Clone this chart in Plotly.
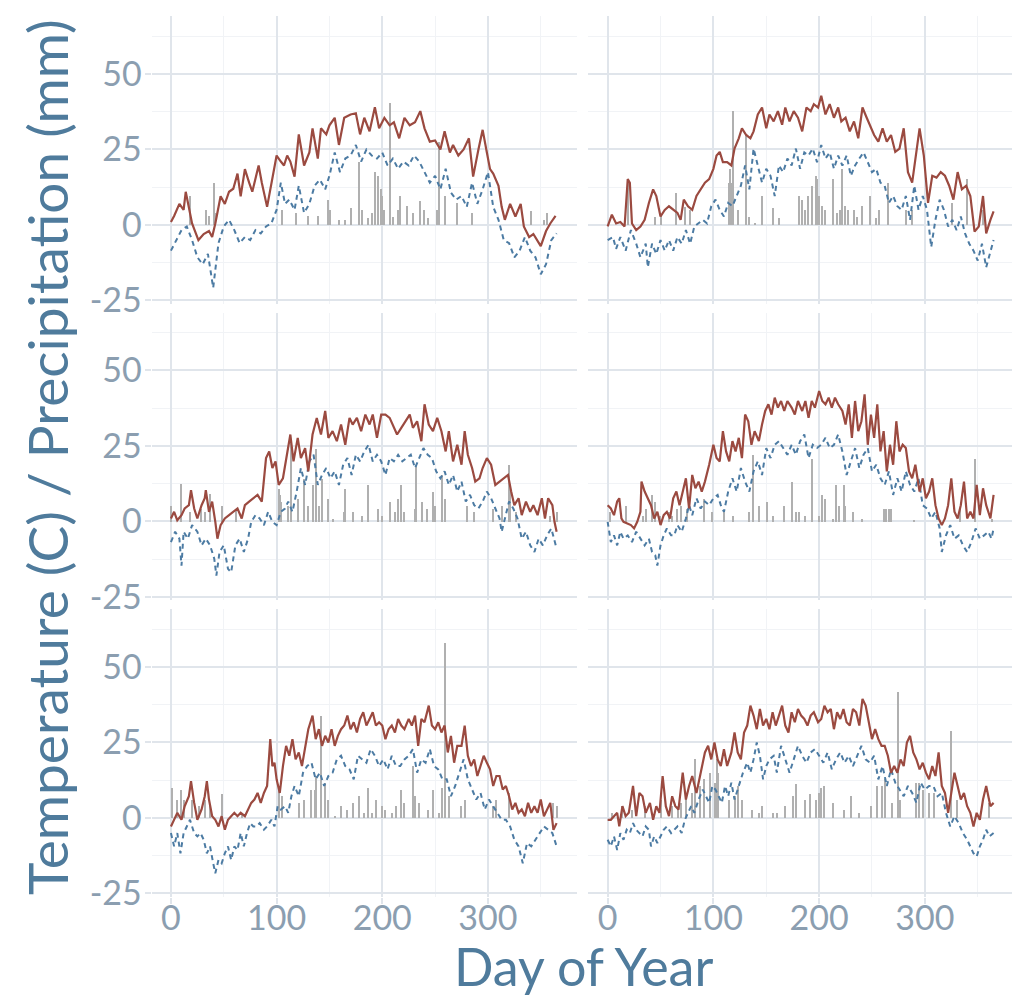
import plotly.graph_objects as go
from plotly.subplots import make_subplots

# ---------------- data ----------------
# Panel 1 (top-left)
tmax_days_1 = [0,3,8,12,14,17,20,26,31,36,39,42,47,51,55,59,63,66,70,74,77,83,86,91,96,100,104,107,110,113,117,121,126,131,134,139,142,147,150,155,159,164,170,175,179,183,188,193,197,202,207,211,216,221,226,231,236,240,245,250,255,259,264,267,272,277,282,286,291,295,299,302,305,310,313,316,321,326,331,334,339,343,350,355,359,364]
tmax_1 = [1,3,7,5,11,6,0.5,-5,-3,-2,-4,0.5,9.5,7,11,12,17,9.5,18.5,14,11,19.7,14,6,16,23,21,19.7,23,21,16,30,19.7,24,32,22,32,30,33,35.5,26.5,35.5,36.6,37,30,35.5,31,39,32,35.5,33,34,28.7,35.5,33,34,37.7,32,27.6,28,25,31,24,26.5,23,25,28.7,16,25,31.5,24,18.5,17,13,6,1.7,7,2.8,7,-0.5,-4,-3,-7,-2,0.5,3]
tmin_days_1 = [0,5,10,15,20,25,30,35,40,45,50,55,60,65,70,75,80,85,90,95,100,104,108,112,117,121,126,131,136,141,146,150,155,160,165,170,175,180,185,190,195,200,205,210,215,220,225,230,235,240,245,250,255,260,265,270,275,280,285,290,295,300,305,310,315,320,325,330,335,340,345,350,355,360,365]
tmin_1 = [-8.5,-5,-1.7,-0.5,-5,-10.7,-13,-9.6,-20.8,-6,-0.5,1.7,-1.7,-6,-4,-5,-1.7,-2.8,-0.5,0.5,5,14,7,8.4,5,13,4,7,13,15,11.8,16.3,24,17.5,22,23,26.5,21,25,23,22,24,19.7,22,18.6,21,19.7,23,21,17.5,14,16.3,11.8,18.6,10.7,8.4,9.6,6,14,7,11.8,17.5,6,1.7,-5,-6,-10.7,-8.5,-4,-8.5,-10.7,-16.3,-13,-5,-2.8]
prcp_days_1 = [18,33,36,40,41,105,118,129,139,148,150,159,164,170,178,180,186,190,193,196,198,199,201,207,210,215,216,223,229,235,239,243,251,253,259,270,285,340,353,356]
prcp_1 = [9.6,5,3,14,4,5,4,3,3,8.4,5,1.7,1.7,5.6,21,5,2.2,4,17.5,16.3,11.8,9.6,5,40.5,2.8,5,9.6,6.2,4,7.9,5,2.2,5,27.6,9.6,7.3,4,4.5,1.7,4]

# Panel 2 (top-right)
tmax_days_2 = [0,4,8,12,16,19,21,23,27,31,35,39,43,46,50,54,58,62,66,69,72,76,80,84,88,92,96,100,103,106,109,113,117,120,124,127,131,135,138,142,146,150,153,157,161,165,168,172,176,180,184,188,192,195,199,202,206,210,214,218,221,225,229,233,237,241,245,249,252,256,260,264,268,272,276,280,284,288,292,295,299,303,307,311,315,319,323,327,331,335,339,343,347,351,355,358,362,365]
tmax_2 = [-0.5,3.4,0.5,1,-0.5,15.2,14,0.5,-1.7,-0.5,1.7,7.3,11.8,9.6,2.8,5,6.2,5,4,1.7,8.4,6.2,5,9.6,11.8,14,15.2,18.6,23,24.2,20.8,20.8,19.7,25.3,28.7,32,29.8,28.7,31,36.6,38.9,32,36.6,34.3,37.7,33.2,38.9,34.3,37.7,35.5,31,38.9,37.7,40,38.9,42.8,36.6,40,35.5,38.9,34.3,35.5,31,34.3,28.7,38.9,35.5,32,29.8,27.6,32,27.6,29.8,24.2,25.3,32,17.5,14,24.2,32,23,7.3,16.3,15.7,17.5,16.3,13,8.4,17.5,11.8,13,9.6,-2.2,-0.5,9.6,-2.8,1.7,4.5]
tmin_days_2 = [0,5,8,12,17,22,27,31,36,38,42,46,50,54,58,62,66,70,74,78,82,86,90,94,98,102,106,110,114,118,122,126,130,134,138,142,146,150,154,158,162,166,170,174,178,182,186,190,194,198,202,206,210,214,218,222,226,230,234,238,242,246,250,254,258,262,266,270,274,278,282,286,290,294,298,302,306,310,314,318,322,326,330,334,338,342,346,350,354,358,362,365]
tmin_2 = [-5,-4,-7.9,-4,-8.5,-1.7,-6.2,-10.7,-6.2,-14,-6.2,-9.6,-5,-8.5,-5,-8.5,-4,-6.2,-1.7,-6.2,-0.5,0.5,1.7,0.5,6.2,8.4,5,2.8,7.3,6.2,9.6,13,19.7,11.8,25.3,19.7,14,18.6,16.3,9.6,19.7,17.5,22,19.7,25.3,18.6,24,23,25.3,20.8,26.5,22,24,18.6,23,19.7,23,16.3,19.7,22,24,20.8,17.5,18.6,14,13,7.3,9.6,6.2,5,9.6,1.7,13,5,9.6,5,-7.3,1.7,8.4,5,-0.5,1.7,-1.7,2.8,-2.8,-6.2,-8.5,-11.8,-6.2,-14,-8.5,-5]
prcp_days_2 = [20,45,51,65,73,78,115,116,118,119,124,131,134,140,146,157,162,181,184,187,190,194,197,198,200,203,206,213,217,220,222,225,228,233,236,241,248,254,257,265,282,288,326,340,355]
prcp_2 = [15,2.8,3,10.7,6,5,14,18.6,14,37.7,5,29.8,2.8,0.6,9.6,5.6,2.2,9.6,8.4,5,9.6,13,16.3,15.2,9.6,6.2,5,15.2,4,5,18.6,6.2,5,5,2.8,6.2,9.6,2.2,5,14,5,5,7.3,15.2,5]

# Panel 3 (middle-left)
tmax_days_3 = [0,3,6,10,13,17,19,22,25,29,32,33,36,39,42,44,47,51,55,59,63,67,70,74,78,82,86,90,93,96,99,102,106,110,113,116,120,123,127,130,134,138,142,146,149,153,157,161,165,169,172,176,180,184,188,191,195,199,203,207,210,214,218,222,226,229,233,237,240,244,248,252,256,260,263,267,271,275,278,281,285,288,292,295,299,303,307,311,315,319,322,325,329,332,336,340,343,347,351,354,357,361,363,365]
tmax_3 = [1.0,3.2,0.4,2.1,4.3,5.4,10.4,4.3,1.0,5.4,7.7,10.4,3.2,6.6,-0.1,-5.7,-1.2,1.0,2.1,3.2,4.3,1.0,5.4,6.6,7.7,8.8,6.6,21.0,23.2,17.7,19.9,12.1,14.3,22.1,28.8,19.9,27.7,21.0,24.3,16.6,28.8,34.3,28.8,36.6,27.7,29.9,26.6,32.1,25.4,34.3,32.1,34.3,29.9,35.4,32.1,35.4,27.7,35.4,35.4,34.3,32.1,28.8,31.0,33.2,35.4,31.0,33.2,26.6,38.8,32.1,29.9,34.3,29.9,23.2,29.9,19.9,25.4,18.8,29.9,22.1,17.7,13.2,14.3,17.7,21.0,18.8,12.1,13.2,14.3,15.4,9.9,5.4,7.7,2.1,6.6,3.2,5.4,2.1,7.7,1.0,7.7,5.4,-0.1,-3.4]
tmin_days_3 = [0,4,8,10,12,16,20,25,29,33,37,41,43,46,50,54,57,61,65,69,73,76,80,84,88,92,96,100,104,108,111,115,119,123,127,131,135,139,143,147,151,155,159,163,167,171,175,179,183,187,191,195,199,203,207,211,215,219,223,227,231,235,239,243,247,251,255,259,263,267,271,275,279,283,287,291,295,299,303,307,311,313,316,320,324,328,332,336,340,344,348,352,356,360,365]
tmin_3 = [-6.8,-3.4,-5.7,-14.6,-3.4,-5.7,-1.2,-3.4,-7.9,-5.7,-7.9,-12.3,-17.9,-10.1,-7.9,-15.7,-16.8,-7.9,-5.7,-10.1,-5.7,-0.1,2.1,1.0,-1.2,3.2,-0.1,-1.2,3.2,4.3,6.6,3.2,9.9,17.7,12.1,19.9,22.1,12.1,15.4,17.7,14.3,16.6,12.1,18.8,21.0,15.4,22.1,19.9,23.2,25.4,19.9,22.1,19.9,15.4,21.0,19.9,22.1,19.9,21.0,22.1,17.7,21.0,24.3,22.1,21.0,16.6,14.3,16.6,12.1,15.4,9.9,13.2,6.6,8.8,5.4,4.3,6.6,9.9,7.7,4.3,1.0,-3.4,1.0,6.6,4.3,1.0,-5.7,-3.4,-7.9,-10.1,-5.7,-7.9,-4.6,-2.3,-9.0]
prcp_days_3 = [0,9,18,28,32,37,48,61,102,103,104,110,113,120,126,129,134,137,140,143,148,153,163,164,172,180,186,196,199,207,212,215,217,220,231,232,237,242,248,250,256,259,280,286,304,313,320,321,326,358,365]
prcp_3 = [5.4,12.7,3.2,4.3,3.2,9.3,5.4,4.3,11.0,8.8,6.6,5.4,26.0,7.7,14.3,5.4,12.1,24.3,5.4,14.3,7.7,1.0,3.2,11.0,3.2,2.1,12.1,4.3,2.1,6.6,3.2,7.7,12.1,3.2,4.3,18.8,6.6,4.3,9.9,5.4,15.4,7.7,5.4,3.2,4.3,5.4,18.8,11.0,3.2,2.1,3.2]

# Panel 4 (middle-right)
tmax_days_4 = [0,3,6,9,11,13,15,19,22,25,28,31,32,35,38,41,44,47,50,53,56,59,62,65,68,71,74,77,80,83,86,89,92,96,100,103,106,109,112,115,118,121,124,127,130,133,136,139,143,146,149,152,155,158,161,164,167,170,174,177,180,184,187,190,193,196,200,203,206,209,212,215,218,222,225,228,231,234,237,240,243,246,249,252,255,258,261,264,267,270,273,276,279,282,285,288,291,295,298,301,304,307,310,313,316,319,322,325,328,331,334,337,340,343,346,349,352,355,358,362,365]
tmax_4 = [5.4,4.3,2.1,6.6,7.7,1.0,-0.1,-0.7,-1.2,-2.3,-0.1,3.2,13.2,9.9,7.7,5.4,1.0,3.2,-1.2,2.1,3.2,1.0,7.7,9.9,5.4,9.9,14.3,4.3,15.4,11.0,13.2,9.9,13.2,18.8,25.4,21.0,19.9,29.9,23.2,19.9,26.6,23.2,27.7,21.0,35.4,33.2,25.4,29.9,26.6,32.1,36.6,38.8,35.4,41.0,37.7,39.9,36.6,39.9,37.7,35.4,39.9,36.6,39.9,34.3,39.9,37.7,43.2,39.9,38.8,41.0,37.7,41.0,38.8,36.6,32.1,38.8,27.7,39.9,29.9,33.2,42.1,25.4,35.4,27.7,38.8,23.2,29.9,16.6,25.4,18.8,33.2,23.2,25.4,24.3,16.6,14.3,18.8,9.9,14.3,7.7,9.9,14.3,5.4,1.0,-1.2,1.0,5.4,14.3,3.2,1.0,5.4,13.2,1.0,3.2,1.0,12.1,2.1,11.0,5.4,1.0,8.8]
tmin_days_4 = [0,3,6,9,12,15,19,23,27,31,35,39,42,45,47,50,53,56,60,63,66,70,74,77,80,84,88,92,96,100,104,107,110,114,118,122,126,130,134,138,142,146,150,154,158,162,166,170,174,178,182,186,190,194,198,202,206,210,214,218,222,226,230,234,238,242,246,250,254,258,262,266,270,274,278,282,286,290,294,298,302,306,310,314,316,320,324,328,332,336,340,344,348,352,356,360,363,365]
tmin_4 = [-0.1,-6.8,-4.6,-7.9,-3.4,-5.7,-4.6,-6.8,-3.4,-5.7,-7.9,-5.7,-10.1,-11.2,-14.6,-7.9,-4.6,-2.3,-4.6,-4.6,-1.2,-3.4,1.0,5.4,2.1,7.7,4.3,6.6,5.4,7.7,8.8,5.4,3.2,9.9,14.3,9.9,17.7,13.2,9.9,16.6,19.9,15.4,24.3,21.0,25.4,26.6,24.3,22.1,25.4,22.1,26.6,28.8,21.0,25.4,24.3,25.4,27.7,24.3,25.4,28.8,23.2,15.4,19.9,24.3,17.7,22.1,24.3,16.6,18.8,14.3,12.1,16.6,8.8,14.3,9.9,16.6,12.1,9.9,14.3,5.4,4.3,1.0,3.2,-2.3,-10.1,-4.6,-1.2,-5.7,-4.6,-7.9,-10.1,-6.8,-2.3,-5.7,-4.6,-3.4,-5.7,-2.3]
prcp_days_4 = [3,18,34,37,42,45,50,58,61,66,70,75,91,99,110,119,134,138,143,151,157,167,175,178,181,187,194,200,203,206,213,216,219,224,225,232,241,262,264,266,268,290,334,348,364]
prcp_4 = [3.2,5.4,2.1,4.3,8.8,6.6,2.1,3.2,2.1,4.3,5.4,4.3,7.7,3.2,3.2,2.1,3.2,22.1,5.4,6.6,2.1,5.4,13.2,3.2,3.2,2.1,21.0,2.1,8.8,7.7,1.0,12.1,5.4,12.1,5.4,3.2,1.0,4.3,4.3,4.3,4.3,0.4,4.3,21.0,1.0]

# Panel 5 (bottom-left)
tmax_days_5 = [0,3,6,10,13,17,19,22,25,29,32,34,36,39,42,45,48,51,54,57,60,63,66,70,73,76,79,82,85,88,91,94,96,98,100,103,106,109,112,115,118,121,124,127,130,134,137,140,143,146,149,152,155,158,161,164,167,170,173,176,179,182,185,188,191,194,197,200,203,206,209,212,215,218,221,225,228,231,234,237,240,244,247,250,253,256,259,262,265,268,271,275,278,281,284,287,290,293,296,299,302,305,308,311,314,317,320,323,326,329,332,335,338,341,344,347,350,353,356,359,362,365]
tmax_5 = [-2.8,-0.6,1.7,-0.6,3.9,7.2,12.2,5.0,-0.6,2.8,7.2,12.2,6.1,0.6,-0.6,-2.8,0.6,-3.9,-0.6,0.6,1.7,0.6,1.7,0.6,2.8,5.0,6.1,8.3,5.0,8.3,10.6,26.1,17.2,18.3,12.8,8.3,17.2,23.9,20.6,26.1,19.4,21.7,17.2,23.9,29.4,33.9,26.1,29.4,23.9,27.2,25.0,29.4,23.9,27.2,29.4,30.6,33.9,29.4,31.7,28.3,32.8,35.0,30.6,32.8,35.0,30.6,31.7,30.6,26.1,29.4,30.6,28.3,32.8,30.6,29.4,32.8,30.6,33.9,23.9,32.8,31.7,37.2,30.6,29.4,31.7,28.3,30.6,21.7,27.2,18.3,23.9,23.9,30.6,20.6,17.2,19.4,13.9,17.2,20.6,18.3,16.1,10.6,13.9,13.9,9.4,10.6,7.2,2.8,5.0,1.7,2.8,0.6,5.0,1.7,3.9,1.7,6.1,0.6,2.8,5.0,-3.9,-1.7]
tmin_days_5 = [0,3,6,9,12,15,18,22,25,28,31,34,37,40,42,45,48,51,54,57,60,63,66,69,72,75,78,81,84,88,91,95,98,101,104,108,111,114,117,121,125,129,133,137,141,145,149,153,157,161,165,169,173,177,181,185,189,193,197,201,205,209,213,217,221,225,229,233,237,241,245,249,253,257,261,265,269,273,277,281,285,289,293,297,301,305,309,313,317,321,325,329,333,337,341,345,349,353,357,361,365]
tmin_5 = [-5.0,-9.4,-5.0,-11.7,-5.0,-2.8,-0.6,-5.0,-6.1,-5.0,-7.2,-11.7,-9.4,-15.0,-18.3,-13.9,-15.0,-11.7,-9.4,-13.9,-9.4,-10.6,-5.0,-9.4,-5.0,-1.7,-2.8,-2.8,-1.7,-3.9,-2.8,-0.6,-2.8,3.9,2.8,3.9,1.7,7.2,10.6,7.2,15.0,17.2,18.3,12.8,15.0,10.6,13.9,15.0,19.4,20.6,17.2,16.1,12.8,20.6,19.4,18.3,22.8,20.6,17.2,19.4,16.1,20.6,17.2,17.2,19.4,20.6,22.8,15.0,19.4,18.3,22.8,17.2,16.1,12.8,12.8,7.2,10.6,15.0,19.4,12.8,9.4,6.1,8.3,2.8,6.1,3.9,1.7,-0.6,-0.6,-2.8,-7.2,-9.4,-15.0,-8.3,-9.4,-7.2,-5.0,-2.8,-3.9,-5.0,-9.4]
prcp_days_5 = [1,5,9,12,20,26,32,37,48,67,102,105,121,126,132,136,137,142,145,148,155,161,166,172,178,182,186,190,194,199,202,209,213,217,220,229,231,234,243,248,253,256,259,263,274,278,304,307,320,361,365]
prcp_5 = [10.0,6.1,9.4,6.1,6.1,3.9,6.1,3.9,7.8,1.7,10.6,7.2,5.0,6.1,9.4,9.4,13.9,33.9,11.7,6.1,0.6,3.9,2.8,5.0,7.2,1.7,10.0,1.7,6.1,3.9,2.8,1.7,3.9,9.4,5.0,17.2,7.2,5.0,2.8,9.4,1.7,10.0,57.8,7.2,3.9,6.1,3.9,6.1,8.3,5.0,3.9]

# Panel 6 (bottom-right)
tmax_days_6 = [0,3,6,9,11,14,17,20,24,27,30,33,36,40,43,46,49,52,55,58,61,64,67,71,74,77,80,84,88,92,95,98,101,104,107,110,113,117,120,123,126,129,132,135,138,141,144,147,150,153,156,159,162,165,168,171,174,177,180,183,186,189,192,195,199,202,205,208,211,214,217,220,223,226,229,232,235,238,241,244,247,250,253,256,259,262,265,268,271,274,277,280,283,286,289,292,295,298,301,304,307,310,313,316,319,322,325,328,331,334,337,340,343,346,349,352,355,358,362,365]
tmax_6 = [-0.6,-0.6,0.6,1.7,-2.8,3.9,0.6,1.7,10.6,0.6,8.3,7.2,1.7,5.0,-0.6,3.9,1.7,13.9,3.9,0.6,7.2,3.9,2.8,15.0,6.1,10.6,13.9,8.3,15.0,21.7,23.9,19.4,25.0,19.4,17.2,22.8,17.2,21.7,28.3,21.7,19.4,28.3,30.6,37.2,33.9,29.4,36.1,30.6,32.8,29.4,35.0,30.6,33.9,37.2,30.6,28.3,35.0,31.7,36.1,33.9,32.8,30.6,33.9,35.0,31.7,32.8,37.2,35.0,36.1,29.4,35.0,32.8,36.1,31.7,30.6,36.1,35.0,30.6,39.4,37.2,31.7,26.1,29.4,26.1,23.9,23.9,20.6,15.0,17.2,15.0,19.4,17.2,25.0,27.2,21.7,19.4,16.1,18.3,15.0,12.8,17.2,13.9,21.7,10.6,8.3,1.7,8.3,15.0,10.6,6.1,8.3,3.9,1.7,-2.8,1.7,-0.6,6.1,10.6,3.9,5.0]
tmin_days_6 = [0,3,6,9,12,15,18,21,24,27,30,33,36,39,41,44,47,50,53,56,60,63,66,70,73,76,79,82,86,90,93,96,99,102,105,108,111,114,117,120,124,128,132,135,138,141,144,147,150,153,157,160,164,168,172,176,180,184,188,192,196,200,204,208,212,216,220,224,228,232,236,240,244,248,252,256,260,264,268,272,276,280,284,288,292,296,300,304,308,312,316,320,324,328,332,336,340,343,346,349,352,355,358,361,365]
tmin_6 = [-7.2,-9.4,-6.1,-10.6,-5.0,-7.2,-3.9,-5.0,-1.7,-3.9,-5.0,-6.1,-2.8,-3.9,-9.4,-6.1,-8.3,-6.1,-3.9,-2.8,-5.0,-3.9,-2.8,-5.0,-0.6,1.7,3.9,1.7,6.1,9.4,7.2,5.0,10.6,9.4,7.2,5.0,10.6,7.2,11.7,6.1,10.6,15.0,18.3,15.0,19.4,25.0,20.6,12.8,17.2,19.4,20.6,15.0,23.9,19.4,15.0,19.4,23.9,20.6,18.3,21.7,22.8,20.6,18.3,21.7,16.1,19.4,21.7,18.3,20.6,17.2,20.6,23.9,19.4,18.3,20.6,12.8,17.2,10.6,16.1,11.7,9.4,7.2,10.6,8.3,5.0,11.7,9.4,10.6,10.6,7.2,8.3,1.7,-2.8,0.6,-1.7,-5.0,-7.2,-9.4,-11.7,-12.8,-9.4,-7.2,-3.9,-6.1,-5.0]
prcp_days_6 = [4,14,23,36,51,61,67,70,74,80,83,88,91,97,102,104,105,115,121,124,127,137,143,146,157,160,168,176,178,187,192,197,200,202,205,213,224,230,238,249,255,260,263,269,275,277,292,295,299,304,309,325,331,361]
prcp_6 = [1.7,3.9,2.8,3.9,6.1,3.9,3.9,5.0,7.2,8.3,19.4,10.6,12.8,15.0,11.7,19.4,15.0,6.1,7.2,10.6,6.1,2.8,1.7,3.9,1.7,1.7,3.9,7.2,11.1,6.1,7.8,6.1,8.3,10.0,10.6,5.0,2.8,7.2,1.7,3.9,10.6,10.6,12.8,5.0,41.7,6.1,11.7,11.7,9.4,8.3,8.3,28.9,6.1,5.0]

x_tickvals = [0, 100, 200, 300]
x_ticktext = ["0", "100", "200", "300"]
y_tickvals = [-25, 0, 25, 50]
y_ticktext = ["-25", "0", "25", "50"]
x_title = "Day of Year"
y_title = "Temperature (C) / Precipitation (mm)"

panels = [
    (tmax_days_1, tmax_1, tmin_days_1, tmin_1, prcp_days_1, prcp_1),
    (tmax_days_2, tmax_2, tmin_days_2, tmin_2, prcp_days_2, prcp_2),
    (tmax_days_3, tmax_3, tmin_days_3, tmin_3, prcp_days_3, prcp_3),
    (tmax_days_4, tmax_4, tmin_days_4, tmin_4, prcp_days_4, prcp_4),
    (tmax_days_5, tmax_5, tmin_days_5, tmin_5, prcp_days_5, prcp_5),
    (tmax_days_6, tmax_6, tmin_days_6, tmin_6, prcp_days_6, prcp_6),
]

# ---------------- styling ----------------
OFF = 8                      # page body margin of the html wrapper
W, H = 1020 - OFF, 1001 - OFF
RED = "#9b4a40"
BLUE = "#4c7ba3"
BAR = "#b0b0b0"
GRID = "#e0e5eb"
GRID_MINOR = "#f1f3f6"
TICK_COLOR = "#8b9eb0"
TITLE_COLOR = "#4f7b9c"
FONT = "Lato"

fig = make_subplots(rows=3, cols=2)

for i, (dx, tx, dn, tn, dp, pp) in enumerate(panels):
    r, c = i // 2 + 1, i % 2 + 1
    fig.add_trace(go.Bar(x=dp, y=pp, width=1, marker=dict(color=BAR, line=dict(width=0)),
                         showlegend=False), row=r, col=c)
    fig.add_trace(go.Scatter(x=dn, y=tn, mode="lines",
                             line=dict(color=BLUE, width=2, dash="5px,4px"),
                             showlegend=False), row=r, col=c)
    fig.add_trace(go.Scatter(x=dx, y=tx, mode="lines",
                             line=dict(color=RED, width=2.2),
                             showlegend=False), row=r, col=c)

# panel positions in window pixels
col_px = [(151.6, 577.0), (588.3, 1014.0)]
row_px = [(16.0, 303.5), (312.5, 600.0), (609.0, 896.5)]

def px_x(v):
    return (v - OFF) / W

def px_y(v):
    return (H - (v - OFF)) / H

for i in range(6):
    r, c = i // 2, i % 2
    n = i + 1
    xa = "xaxis" if n == 1 else f"xaxis{n}"
    ya = "yaxis" if n == 1 else f"yaxis{n}"
    x0, x1 = col_px[c]
    y0, y1 = row_px[r]
    fig.layout[xa].update(
        domain=[px_x(x0), px_x(x1)], range=[-18.3, 384.3], automargin=False,
        tickvals=x_tickvals, ticktext=x_ticktext,
        showticklabels=(r == 2), ticks="outside" if r == 2 else "",
        ticklen=6, tickwidth=1.5, tickcolor=GRID, ticklabelstandoff=-14,
        showgrid=True, gridcolor=GRID, gridwidth=1.6,
        minor=dict(tickvals=[50, 150, 250, 350], showgrid=True, gridcolor=GRID_MINOR, gridwidth=1),
        zeroline=False, showline=False,
        tickfont=dict(family=FONT, size=34, color=TICK_COLOR),
    )
    fig.layout[ya].update(
        domain=[px_y(y1), px_y(y0)], range=[-26.0, 69.2], automargin=False,
        tickvals=y_tickvals, ticktext=y_ticktext,
        showticklabels=(c == 0), ticks="outside" if c == 0 else "",
        ticklen=6, tickwidth=1.5, tickcolor=GRID, ticklabelstandoff=-4,
        showgrid=True, gridcolor=GRID, gridwidth=1.6,
        minor=dict(tickvals=[-12.5, 12.5, 37.5, 62.5], showgrid=True, gridcolor=GRID_MINOR, gridwidth=1),
        zeroline=False, showline=False,
        tickfont=dict(family=FONT, size=34, color=TICK_COLOR),
    )

fig.add_annotation(text=y_title, xref="paper", yref="paper", x=px_x(47), y=px_y(457),
                   xanchor="center", yanchor="middle", textangle=-90, showarrow=False,
                   font=dict(family=FONT, size=55, color=TITLE_COLOR))
fig.add_annotation(text=x_title, xref="paper", yref="paper", x=px_x(583), y=px_y(966),
                   xanchor="center", yanchor="middle", showarrow=False,
                   font=dict(family=FONT, size=52, color=TITLE_COLOR))

fig.update_layout(
    width=W, height=H, margin=dict(l=0, r=0, t=0, b=0),
    paper_bgcolor="white", plot_bgcolor="white",
    barmode="overlay", bargap=0, showlegend=False,
    font=dict(family=FONT),
)

fig.write_html("out.html")
